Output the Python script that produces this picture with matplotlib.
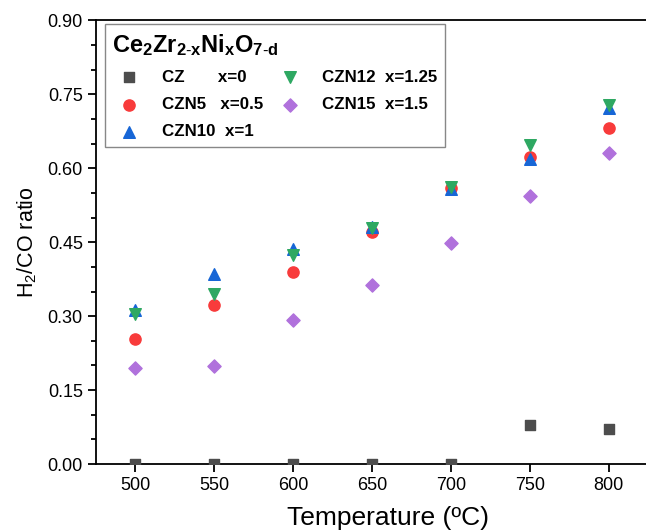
import matplotlib
matplotlib.use('Agg')
import matplotlib.pyplot as plt
from matplotlib.ticker import MultipleLocator

# ================= Data Section =================
temperature = [500, 550, 600, 650, 700, 750, 800]

cz = [0.0, 0.0, 0.0, 0.0, 0.0, 0.080, 0.072]
czn5 = [0.253, 0.323, 0.389, 0.470, 0.560, 0.622, 0.682]
czn10 = [0.312, 0.385, 0.437, 0.481, 0.558, 0.618, 0.722]
czn12 = [0.305, 0.345, 0.425, 0.478, 0.562, 0.648, 0.728]
czn15 = [0.195, 0.199, 0.293, 0.363, 0.449, 0.543, 0.632]

labels = ['CZ       x=0', 'CZN5   x=0.5', 'CZN10  x=1', 'CZN12  x=1.25', 'CZN15  x=1.5']

# ================= Style Configuration =================
plt.rcParams.update({
    'font.family': 'Liberation Sans',
    'font.size': 13,
    'mathtext.fontset': 'custom',
    'mathtext.rm': 'Liberation Sans',
    'mathtext.it': 'Liberation Sans',
    'mathtext.bf': 'Liberation Sans:bold',
    'axes.linewidth': 1.3,
})

fig = plt.figure(figsize=(6.46, 5.32), dpi=100)
ax = fig.add_axes([0.1486, 0.1278, 0.855, 0.8337])

# ================= Plotting =================
ax.scatter(temperature, cz, marker='s', s=55, color='#4d4d4d', label=labels[0], zorder=3)
ax.scatter(temperature, czn5, marker='o', s=65, color='#f83b3b', label=labels[1], zorder=3)
ax.scatter(temperature, czn10, marker='^', s=70, color='#1766d6', label=labels[2], zorder=3)
ax.scatter(temperature, czn12, marker='v', s=70, color='#2ea862', label=labels[3], zorder=3)
ax.scatter(temperature, czn15, marker='D', s=45, color='#b071dc', label=labels[4], zorder=3)

# ================= Axes =================
ax.set_xlim(475.3, 825)
ax.set_ylim(0, 0.9)
ax.set_xticks(temperature)
ax.yaxis.set_major_locator(MultipleLocator(0.15))
ax.yaxis.set_minor_locator(MultipleLocator(0.05))
ax.yaxis.set_major_formatter(matplotlib.ticker.FormatStrFormatter('%.2f'))
ax.tick_params(axis='both', which='major', direction='out', length=6, width=1.3, labelsize=13)
ax.tick_params(axis='y', which='minor', direction='out', length=3.5, width=1.3)
ax.spines['right'].set_visible(False)

ax.set_xlabel('Temperature (ºC)', fontsize=19)
ax.xaxis.set_label_coords(0.529, -0.095)
ax.set_ylabel('H$_2$/CO ratio', fontsize=15.5, labelpad=6)

# ================= Legend =================
leg = ax.legend(loc='upper left', bbox_to_anchor=(0.016, 0.992), borderaxespad=0, ncol=2,
                title=r'$\mathbf{Ce_2Zr_{2\text{-}x}Ni_xO_{7\text{-}d}}$',
                title_fontsize=17, prop={'weight': 'bold', 'size': 12.2},
                fancybox=False, edgecolor='#888888', framealpha=1,
                handletextpad=0.9, columnspacing=0.6, labelspacing=0.72,
                borderpad=0.45, scatterpoints=1)
leg._legend_box.align = 'left'
leg.get_frame().set_linewidth(1.0)

plt.savefig('out.png', dpi=100)
